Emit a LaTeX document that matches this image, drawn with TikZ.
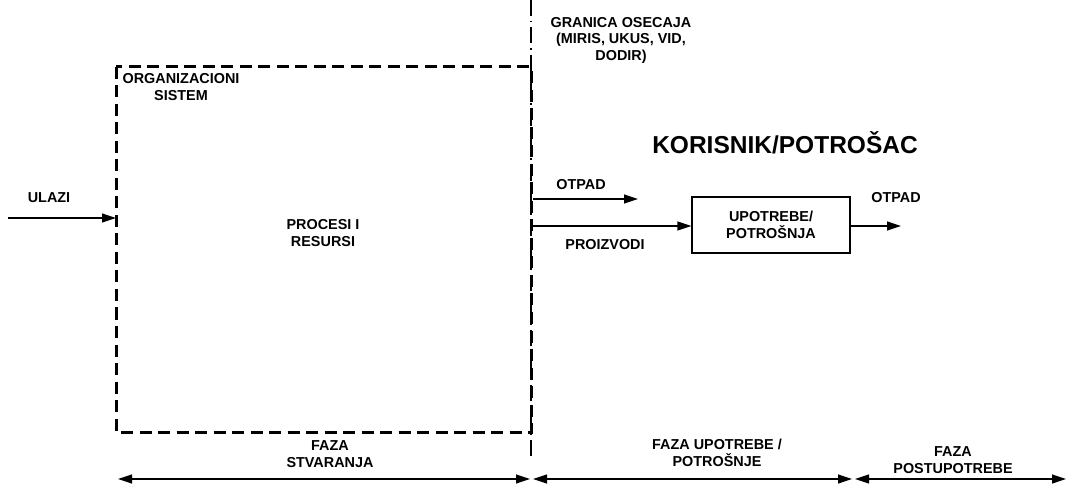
\documentclass[tikz,border=0pt]{standalone}
\usepackage{fontspec}
\setmainfont{Liberation Sans}
\usetikzlibrary{arrows.meta}
\begin{document}
\begin{tikzpicture}[x=1pt,y=-1pt,
  lbl/.style={font=\bfseries\fontsize{14.4}{16.5}\selectfont, align=center, inner sep=0pt},
  biglbl/.style={font=\bfseries\fontsize{24.5}{28}\selectfont, inner sep=0pt},
  tip/.tip={Triangle[length=14pt,width=9pt]},
  flow/.style={line width=1.2pt, -tip},
  span/.style={line width=1.2pt, tip-tip},
  sysbox/.style={draw, line width=3pt, dash pattern=on 12pt off 6.5pt},
  border/.style={line width=2.8pt, dash pattern=on 16pt off 5pt on 1.5pt off 5pt},
  usebox/.style={draw, line width=1.2pt, minimum width=158pt, minimum height=56pt, inner sep=0pt}]
\useasboundingbox (0,0) rectangle (1068,486);

% organisational system (dashed frame)
\draw[sysbox] (116,67) rectangle (531,432);
\coordinate (sysW) at (116,218);

% boundary of the senses
\coordinate (bTop) at (531,0);
\coordinate (bBot) at (531,456);
\draw[border] (bTop) -- (bBot);

% texts inside the system
\node[lbl] (org) at (181,87) {ORGANIZACIONI\\SISTEM};
\node[lbl] (proc) at (323,233) {PROCESI I\\RESURSI};

% input
\coordinate (inStart) at (8,218);
\draw[flow] (inStart) -- (sysW);
\node[lbl] (ulazi) at (49,198) {ULAZI};

% boundary caption and consumer
\node[lbl] (granica) at (621,40) {GRANICA OSECAJA\\(MIRIS, UKUS, VID,\\DODIR)};
\node[biglbl] (korisnik) at (785,143) {KORISNIK/POTROŠAC};

% usage box
\node[usebox, lbl] (use) at (771,225) {UPOTREBE/\\POTROŠNJA};

% waste leaving the boundary
\coordinate (w1s) at (533,199);
\coordinate (w1e) at (638,199);
\draw[flow] (w1s) -- (w1e);
\node[lbl] (otpad1) at (581,185) {OTPAD};

% products to the usage box
\coordinate (ps) at (533,226);
\draw[flow] (ps) -- (use.west |- ps);
\node[lbl] (proizvodi) at (605,245) {PROIZVODI};

% waste after use
\coordinate (w2e) at (901,226);
\draw[flow] (use.east |- w2e) -- (w2e);
\node[lbl] (otpad2) at (896,198) {OTPAD};

% phases along the bottom
\coordinate (p0) at (118,479);
\coordinate (p1) at (530,479);
\coordinate (p2) at (533,479);
\coordinate (p3) at (852,479);
\coordinate (p4) at (855,479);
\coordinate (p5) at (1066,479);
\draw[span] (p0) -- (p1);
\draw[span] (p2) -- (p3);
\draw[span] (p4) -- (p5);
\node[lbl] (f1) at (330,454) {FAZA\\STVARANJA};
\node[lbl] (f2) at (717,453) {FAZA UPOTREBE /\\POTROŠNJE};
\node[lbl] (f3) at (953,460) {FAZA\\POSTUPOTREBE};
\end{tikzpicture}
\end{document}
